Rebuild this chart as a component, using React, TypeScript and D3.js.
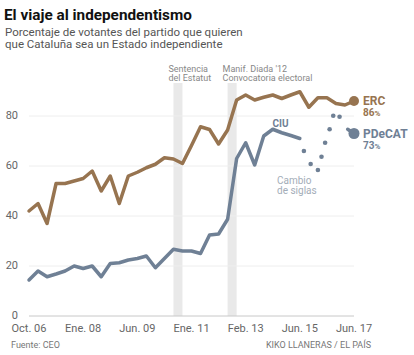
import React from "react";
import * as d3 from "d3";

const W = 414;
const H = 355;

// Survey index (CEO barometers), 0..36
const ercValues = [42, 45, 37, 53, 53, 54, 55, 58, 50, 56, 45, 56, 57.5, 59.3, 60.7, 63.3, 62.8, 61, 68.2, 75.7, 74.6, 68.8, 74.4, 86.4, 88.4, 86.4, 87.5, 88.4, 87, 88.4, 89.7, 83.5, 87.3, 87.3, 85, 84.4, 86];
const ciuValues = [14.4, 18, 15.7, 16.8, 18, 20, 19, 20, 15.7, 21, 21.3, 22.4, 23, 24, 19.3, 23, 26.7, 26, 26, 25, 32.4, 32.8, 38.7, 63, 69.3, 60.4, 72, 74.7, 73.3, 72.2, 71];
const siglasIdx = [30.45, 31.2, 32.0, 32.4, 32.8, 33.3, 33.7, 34.4];
const siglasValues = [66, 60.8, 58.4, 63.7, 69.3, 74.7, 80.1, 79.7];
const pdecatIdx = [35.3, 36];
const pdecatValues = [74.7, 73];

const xTickIdx = [0, 6, 12, 18, 24, 30, 36];
const xTickLabels = ["Oct. 06", "Ene. 08", "Jun. 09", "Ene. 11", "Feb. 13", "Jun. 15", "Jun. 17"];
const yTicks = [0, 20, 40, 60, 80];
const bands = [
  { from: 16, to: 17, lines: ["Sentencia", "del Estatut"] },
  { from: 22, to: 23, lines: ["Manif. Diada '12", "Convocatoria electoral"] },
];

const ERC = "#977450";
const CIU = "#6f8095";
const FONT = "Roboto, 'Noto Sans', sans-serif";

export default function App() {
  const x = d3.scaleLinear().domain([0, 36]).range([29, 354]);
  const y = d3.scaleLinear().domain([0, 80]).range([316, 116]);

  const line = d3
    .line<[number, number]>()
    .x((d) => x(d[0]))
    .y((d) => y(d[1]));

  const ercPts: [number, number][] = ercValues.map((v, i) => [i, v]);
  const ciuPts: [number, number][] = ciuValues.map((v, i) => [i, v]);
  const pdPts: [number, number][] = pdecatIdx.map((v, i) => [v, pdecatValues[i]]);
  const ercLast = ercPts[ercPts.length - 1];
  const pdLast = pdPts[pdPts.length - 1];

  return (
    <svg
      width={W}
      height={H}
      style={{ position: "absolute", left: 0, top: 0, background: "#fff" }}
      fontFamily={FONT}
    >
      <text x={4} y={19.5} fontSize={15.3} fontWeight={700} fill="#111">
        El viaje al independentismo
      </text>
      <text x={5} y={36.3} fontSize={11.5} fill="#555">
        Porcentaje de votantes del partido que quieren
      </text>
      <text x={5} y={47.8} fontSize={11.5} fill="#555">
        que Cataluña sea un Estado independiente
      </text>

      {bands.map((b, i) => (
        <g key={i}>
          <rect x={x(b.from)} y={83} width={x(b.to) - x(b.from)} height={316 - 83} fill="#e9e9e9" />
          {b.lines.map((t, j) => (
            <text key={j} x={x(b.from) - 5} y={71.5 + j * 9.5} fontSize={9} fill="#888">
              {t}
            </text>
          ))}
        </g>
      ))}

      {yTicks.map((t) => (
        <g key={t}>
          {t > 0 && <line x1={29} x2={354} y1={y(t)} y2={y(t)} stroke="#eeeeee" strokeWidth={1} />}
          <text x={18} y={y(t)} dy="0.3em" textAnchor="end" fontSize={11} fill="#666">
            {t}
          </text>
        </g>
      ))}
      <line x1={29} x2={354} y1={y(0)} y2={y(0)} stroke="#c8c8c8" strokeWidth={1} />

      {xTickIdx.map((t, i) => (
        <text key={t} x={x(t)} y={331.5} textAnchor="middle" fontSize={11} fill="#666">
          {xTickLabels[i]}
        </text>
      ))}

      <path d={line(ciuPts) || ""} fill="none" stroke={CIU} strokeWidth={3.5} strokeLinejoin="round" strokeLinecap="round" />
      <path d={line(ercPts) || ""} fill="none" stroke={ERC} strokeWidth={3.5} strokeLinejoin="round" strokeLinecap="round" />
      {siglasIdx.map((v, i) => (
        <circle key={i} cx={x(v)} cy={y(siglasValues[i])} r={2.3} fill={CIU} />
      ))}
      <path d={line(pdPts) || ""} fill="none" stroke={CIU} strokeWidth={3.5} strokeLinecap="round" />
      <circle cx={x(ercLast[0])} cy={y(ercLast[1])} r={5} fill={ERC} />
      <circle cx={x(pdLast[0])} cy={y(pdLast[1])} r={5.5} fill={CIU} />

      <text x={272.5} y={126.5} fontSize={10} fontWeight={700} fill={CIU}>
        CIU
      </text>
      <text x={277} y={184} fontSize={10} fill="#a3adb8">
        Cambio
      </text>
      <text x={277} y={193.5} fontSize={10} fill="#a3adb8">
        de siglas
      </text>

      <text x={363} y={104.5} fontSize={12} fontWeight={700} fill={ERC}>
        ERC
      </text>
      <text x={363} y={115.5} fontSize={10} fontWeight={700} fill={ERC}>
        86<tspan fontSize={8}>%</tspan>
      </text>
      <text x={363} y={138} fontSize={12} fontWeight={700} fill={CIU}>
        PDeCAT
      </text>
      <text x={363} y={148.5} fontSize={10} fontWeight={700} fill={CIU}>
        73<tspan fontSize={8}>%</tspan>
      </text>

      <text x={11} y={347.5} fontSize={9} fill="#777">
        Fuente: CEO
      </text>
      <text x={371} y={347.5} textAnchor="end" fontSize={9} fill="#777">
        KIKO LLANERAS / EL PAÍS
      </text>
    </svg>
  );
}
